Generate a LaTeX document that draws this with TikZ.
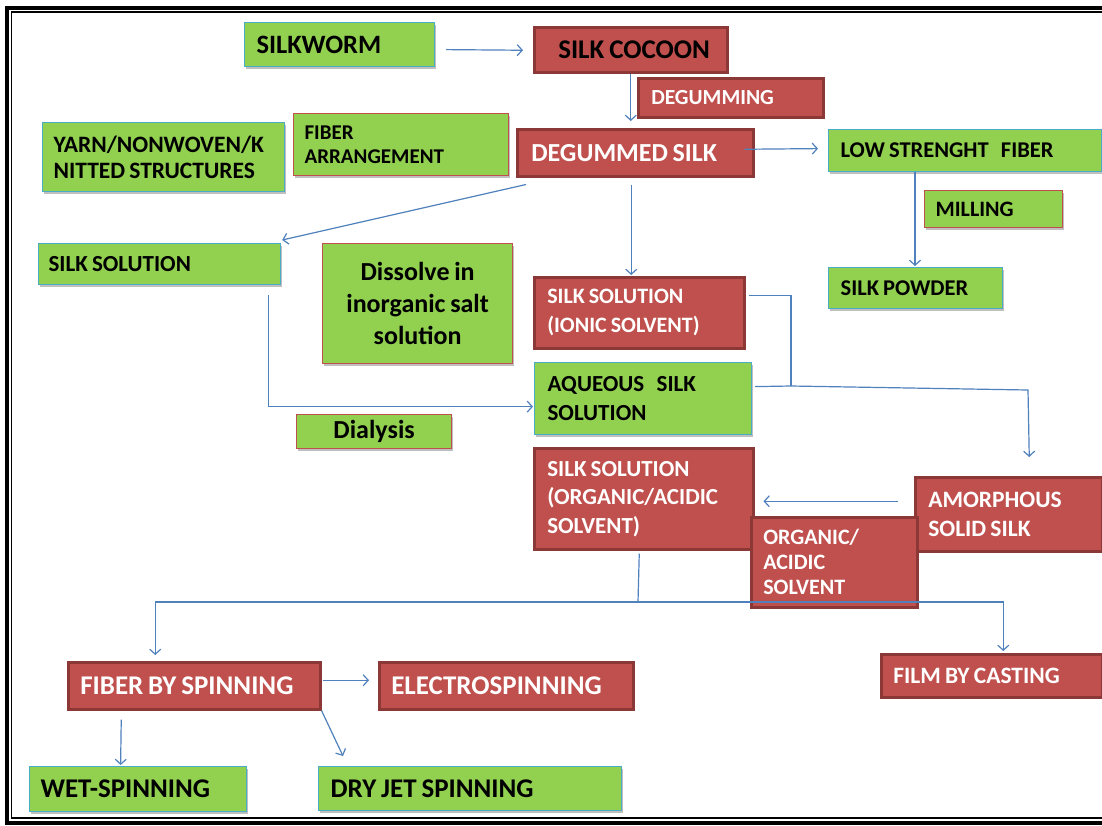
\documentclass[tikz,border=0pt]{standalone}
\usepackage{fontspec}
\setmainfont{Carlito}
\usetikzlibrary{arrows.meta,shadows}
\definecolor{sgreen}{HTML}{92D050}
\definecolor{sblue}{HTML}{4BACC6}
\definecolor{sred}{HTML}{C0504D}
\definecolor{sdark}{HTML}{8C3836}
\definecolor{arrowblue}{HTML}{4F81BD}
\newcommand{\myfs}[2]{\fontsize{#1}{#2}\selectfont\bfseries}
\tikzset{
  basebox/.style={rectangle, anchor=north west, inner ysep=0pt, align=left,
    execute at begin node={\spaceskip=0.18em\relax\xspaceskip=0.18em\relax},
    drop shadow={shadow xshift=1.5pt, shadow yshift=-2pt, opacity=0.25, fill=black}},
  gbox/.style={basebox, fill=sgreen, draw=sblue, line width=1.2pt, text=black},
  grbox/.style={basebox, fill=sgreen, draw=sred, line width=1.2pt, text=black},
  rbox/.style={basebox, fill=sred, draw=sdark, line width=2.5pt, text=white},
  conn/.style={draw=arrowblue, line width=1.2pt},
  arr/.style={conn, -{Straight Barb[length=5pt,width=11pt]}},
}
\begin{document}
\begin{tikzpicture}[x=1pt,y=-1pt]
\useasboundingbox (0,0) rectangle (1102,825);
\fill[white] (0,0) rectangle (1102,825);
\begin{scope}
\clip (0,0) rectangle (1102,825);
\draw[line width=4pt] (7,8) rectangle (1120,822.5);
\draw[line width=1.5pt] (11.5,12) rectangle (1115,818);
\end{scope}

% nodes
\node[gbox, inner xsep=12pt, text width=166pt, minimum height=44pt, font=\myfs{26.5}{30}] (silkworm) at (244,22) {\mbox{SILKWORM}};
\node[rbox, text=black, inner xsep=24pt, text width=145pt, minimum height=45pt, font=\myfs{27}{30}] (cocoon) at (533,26) {\mbox{SILK COCOON}};
\node[rbox, inner xsep=13pt, text width=159pt, minimum height=39pt, font=\myfs{21.5}{26}] (degumming) at (637,77) {\mbox{DEGUMMING}};
\node[rbox, inner xsep=14pt, text width=208pt, minimum height=47pt, font=\myfs{26}{30}] (degummed) at (516,128) {\mbox{DEGUMMED SILK}};
\node[gbox, inner xsep=12pt, text width=249pt, minimum height=42pt, font=\myfs{22.5}{26}] (lowfiber) at (828,129) {\mbox{LOW STRENGHT\ \ \ FIBER}};
\node[grbox, inner xsep=11pt, text width=116pt, minimum height=37pt, font=\myfs{22}{26}] (milling) at (924,190) {\mbox{MILLING}};
\node[gbox, inner xsep=12pt, text width=150pt, minimum height=41pt, font=\myfs{22.5}{26}] (powder) at (828,267) {\mbox{SILK POWDER}};
\node[gbox, inner xsep=11pt, text width=220pt, minimum height=69pt, font=\myfs{23.5}{26}] (yarn) at (42,122) {\mbox{YARN/NONWOVEN/K}\\\mbox{NITTED STRUCTURES}};
\node[grbox, inner xsep=11pt, text width=193pt, minimum height=62pt, font=\myfs{21}{24}] (fiberarr) at (293,113) {\mbox{FIBER}\\\mbox{ARRANGEMENT}};
\node[gbox, inner xsep=10pt, text width=222pt, minimum height=41pt, font=\myfs{23}{26}] (silksol) at (38,243) {\mbox{SILK SOLUTION}};
\node[grbox, inner xsep=5pt, text width=180pt, align=center, minimum height=120pt, font=\myfs{26}{32}] (dissolve) at (322,243) {\mbox{Dissolve in}\\\mbox{inorganic salt}\\\mbox{solution}};
\node[rbox, inner xsep=13pt, text width=184pt, minimum height=71pt, font=\myfs{22}{29}] (ionic) at (533,276) {\mbox{SILK SOLUTION}\\\mbox{(IONIC SOLVENT)}};
\node[gbox, inner xsep=13pt, text width=191pt, minimum height=72pt, font=\myfs{23}{29}] (aqueous) at (534,362) {\mbox{AQUEOUS\ \ \ SILK}\\\mbox{SOLUTION}};
\node[grbox, inner xsep=5pt, text width=145pt, align=center, minimum height=34pt, font=\myfs{26}{30}] (dialysis) at (296,414) {\mbox{Dialysis}};
\node[rbox, inner xsep=13pt, text width=193pt, minimum height=101pt, font=\myfs{23}{28.5}] (organic) at (533,447) {\mbox{SILK SOLUTION}\\\mbox{(ORGANIC/ACIDIC}\\\mbox{SOLVENT)}};
\node[rbox, inner xsep=13pt, text width=161pt, minimum height=74pt, font=\myfs{23.5}{29}] (amorphous) at (914,476) {\mbox{AMORPHOUS}\\\mbox{SOLID SILK}};
\node[rbox, inner xsep=12pt, text width=142pt, minimum height=90pt, font=\myfs{22}{25}] (solvent) at (750,516) {\mbox{ORGANIC/}\\\mbox{ACIDIC}\\\mbox{SOLVENT}};
\node[rbox, inner xsep=12pt, text width=228pt, minimum height=47pt, font=\myfs{27}{30}] (fiberspin) at (67,661) {\mbox{FIBER BY SPINNING}};
\node[rbox, inner xsep=12pt, text width=230pt, minimum height=47pt, font=\myfs{27}{30}] (electro) at (378,661) {\mbox{ELECTROSPINNING}};
\node[rbox, inner xsep=12pt, text width=197pt, minimum height=43pt, font=\myfs{23.5}{28}] (film) at (880,653) {\mbox{FILM BY CASTING}};
\node[gbox, inner xsep=11pt, text width=195pt, minimum height=45pt, font=\myfs{27}{30}] (wet) at (29,766) {\mbox{WET-SPINNING}};
\node[gbox, inner xsep=12pt, text width=279pt, minimum height=44pt, font=\myfs{27}{30}] (dry) at (318,766) {\mbox{DRY JET SPINNING}};

% helper coordinates
\coordinate (j) at (791,386);
\coordinate (k) at (1028,390);
\coordinate (hub) at (638,602);

% connectors
\draw[arr] ([shift={(11,5)}]silkworm.east) -- ([shift={(-10,0.5)}]cocoon.west);
\draw[arr, shorten >=7pt] (cocoon.south) -- (cocoon.south |- degummed.north);
\draw[arr] ([shift={(-10,-3.5)}]degummed.east) -- ([shift={(-10,-2)}]lowfiber.west);
\draw[arr] ([shift={(10,7)}]degummed.south west) -- ([shift={(1,-3)}]silksol.north east);
\draw[arr] ([shift={(-4,7)}]degummed.south) -- ([shift={(-8,-1)}]ionic.north);
\draw[arr] ([shift={(87,0)}]lowfiber.south west) -- ([shift={(87,-1)}]powder.north west);
\draw[arr] ([shift={(-13,10)}]silksol.south east) |- ([shift={(-1,8)}]aqueous.west);
\draw[conn] ([shift={(3,-17.5)}]ionic.east) -| (j);
\draw[arr] ([shift={(3,-12)}]aqueous.east) -- (j) -- (k) -- ([shift={(20.5,-19)}]amorphous.north);
\draw[arr] ([shift={(-16,-13)}]amorphous.west) -- ([shift={(9,2.5)}]organic.east);
\draw[conn] ([shift={(-4.5,3)}]organic.south) -- (hub);
\draw[arr] (hub) -| ([shift={(-39,-6)}]fiberspin.north);
\draw[arr] (hub) -| ([shift={(11.5,-2)}]film.north);
\draw[arr] ([shift={(1,-5.5)}]fiberspin.east) -- ([shift={(-9,-5.5)}]electro.west);
\draw[arr] ([shift={(-73,9)}]fiberspin.south) -- ([shift={(-17.5,-1)}]wet.north);
\draw[arr] (fiberspin.south east) -- ([shift={(25,-10)}]dry.north west);
\end{tikzpicture}
\end{document}
